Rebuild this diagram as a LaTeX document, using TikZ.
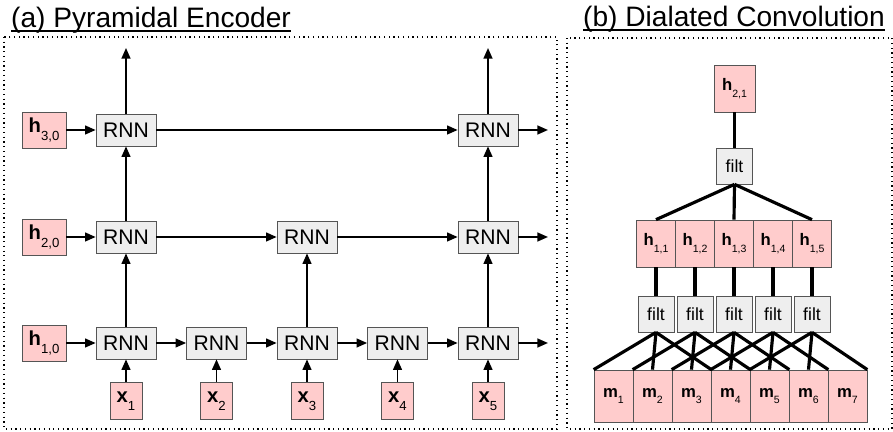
\documentclass[tikz,border=0pt]{standalone}
\usepackage{fontspec}
\setmainfont{Liberation Sans}
\usetikzlibrary{arrows.meta,positioning}

\definecolor{cellpink}{HTML}{FFCCCC}
\definecolor{cellgray}{HTML}{EEEEEE}
\definecolor{edgegray}{HTML}{555555}

% bold symbol with a lowered index
\newcommand{\varlab}[3]{\textbf{#1}\raisebox{-0.38em}{\fontsize{#3}{#3}\selectfont #2}}
% title text with a close underline
\newcommand{\ttlline}[1]{\setbox0\hbox{#1}\rlap{\copy0}\rule[-0.13em]{\wd0}{0.055em}}

\begin{document}
\begin{tikzpicture}[
		rnn/.style={rectangle, draw=edgegray, fill=cellgray, minimum width=1.2cm, minimum height=0.64cm, inner sep=0pt, font=\fontsize{12}{14}\selectfont},
		state/.style={rectangle, draw=edgegray, fill=cellpink, minimum width=0.88cm, minimum height=0.72cm, inner sep=0pt, font=\fontsize{11.5}{13}\selectfont},
		input/.style={state, minimum width=0.64cm, minimum height=0.74cm, font=\fontsize{11.5}{13}\selectfont},
		filt/.style={rectangle, draw=edgegray, fill=cellgray, minimum size=0.72cm, inner sep=0pt, font=\fontsize{10}{11}\selectfont},
		cell/.style={rectangle, draw=edgegray, fill=cellpink, minimum width=0.78cm, minimum height=0.94cm, inner sep=0pt, font=\fontsize{9.5}{11}\selectfont},
		panel/.style={draw, dotted, line width=0.7pt},
		title/.style={anchor=base west, font=\fontsize{16}{18}\selectfont},
		arrow/.style={line width=1pt, -{Triangle[length=6pt,width=5pt]}},
		wire/.style={line width=1.8pt}
	]
	\useasboundingbox (0,0) rectangle (17.86,-8.64);

	% Titoli e riquadri
	\node[title] (titleA) at (0.1,-0.56) {\ttlline{(a) Pyramidal Encoder}};
	\node[title] (titleB) at (11.54,-0.54) {\ttlline{(b) Dialated Convolution}};
	\draw[panel] (0.08,-0.74) rectangle (11.14,-8.58);
	\draw[panel] (11.34,-0.76) rectangle (17.84,-8.58);

	% (a) Stati iniziali
	\node[state] (h30) at (0.88,-2.60) {\varlab{h}{3,0}{7.5}};
	\node[state] (h20) at (0.88,-4.74) {\varlab{h}{2,0}{7.5}};
	\node[state] (h10) at (0.88,-6.86) {\varlab{h}{1,0}{7.5}};

	% (a) Livello 1 e ingressi
	\foreach \i/\x in {1/2.52,2/4.33,3/6.14,4/7.95,5/9.76} {
		\node[rnn] (r1\i) at (\x,-6.86) {RNN};
		\node[input] (x\i) at (\x,-8.02) {\varlab{x}{\i}{7.5}};
		\draw[arrow] (x\i) -- (r1\i);
	}

	% (a) Livelli 2 e 3
	\node[rnn] (r21) at (2.52,-4.74) {RNN};
	\node[rnn] (r23) at (6.14,-4.74) {RNN};
	\node[rnn] (r25) at (9.76,-4.74) {RNN};
	\node[rnn] (r31) at (2.52,-2.60) {RNN};
	\node[rnn] (r35) at (9.76,-2.60) {RNN};

	\coordinate (out1) at (10.96,-6.86);
	\coordinate (out2) at (10.96,-4.74);
	\coordinate (out3) at (10.96,-2.60);
	\coordinate (top1) at (2.52,-0.96);
	\coordinate (top5) at (9.76,-0.96);

	% (a) Frecce
	\draw[arrow] (h10) -- (r11);
	\draw[arrow] (h20) -- (r21);
	\draw[arrow] (h30) -- (r31);
	\foreach \a/\b in {1/2,2/3,3/4,4/5}
		\draw[arrow] (r1\a) -- (r1\b);
	\draw[arrow] (r15) -- (out1);
	\draw[arrow] (r21) -- (r23);
	\draw[arrow] (r23) -- (r25);
	\draw[arrow] (r25) -- (out2);
	\draw[arrow] (r31) -- (r35);
	\draw[arrow] (r35) -- (out3);
	\draw[arrow] (r11) -- (r21);
	\draw[arrow] (r13) -- (r23);
	\draw[arrow] (r15) -- (r25);
	\draw[arrow] (r21) -- (r31);
	\draw[arrow] (r25) -- (r35);
	\draw[arrow] (r31) -- (top1);
	\draw[arrow] (r35) -- (top5);

	% (b) Convoluzione dilatata
	\node[cell, minimum width=0.82cm] (h21) at (14.69,-1.77) {\varlab{h}{2,1}{6}};
	\node[filt] (ftop) at (14.69,-3.32) {filt};
	\foreach \i/\x in {1/13.12,2/13.90,3/14.68,4/15.46,5/16.24} {
		\node[cell] (h1\i) at (\x,-4.87) {\varlab{h}{1,\i}{6}};
		\node[filt] (f\i) at (\x,-6.28) {filt};
	}
	\foreach \i/\x in {1/12.27,2/13.05,3/13.83,4/14.61,5/15.39,6/16.17,7/16.95}
		\node[cell, minimum height=1.04cm] (m\i) at (\x,-7.92) {\varlab{m}{\i}{6}};

	\draw[wire] (h21) -- (ftop);
	\draw[wire] (ftop.south) -- (h11.north);
	\draw[wire] (ftop.south) -- (h13.north);
	\draw[wire] (ftop.south) -- (h15.north);
	\foreach \i in {1,...,5} {
		\pgfmathtruncatemacro{\j}{\i+1}
		\pgfmathtruncatemacro{\k}{\i+2}
		\draw[wire] (h1\i) -- (f\i);
		\draw[wire] (f\i.south) -- (m\i.north west);
		\draw[wire] (f\i.south) -- (m\j.north);
		\draw[wire] (f\i.south) -- (m\k.north east);
	}

\end{tikzpicture}
\end{document}
